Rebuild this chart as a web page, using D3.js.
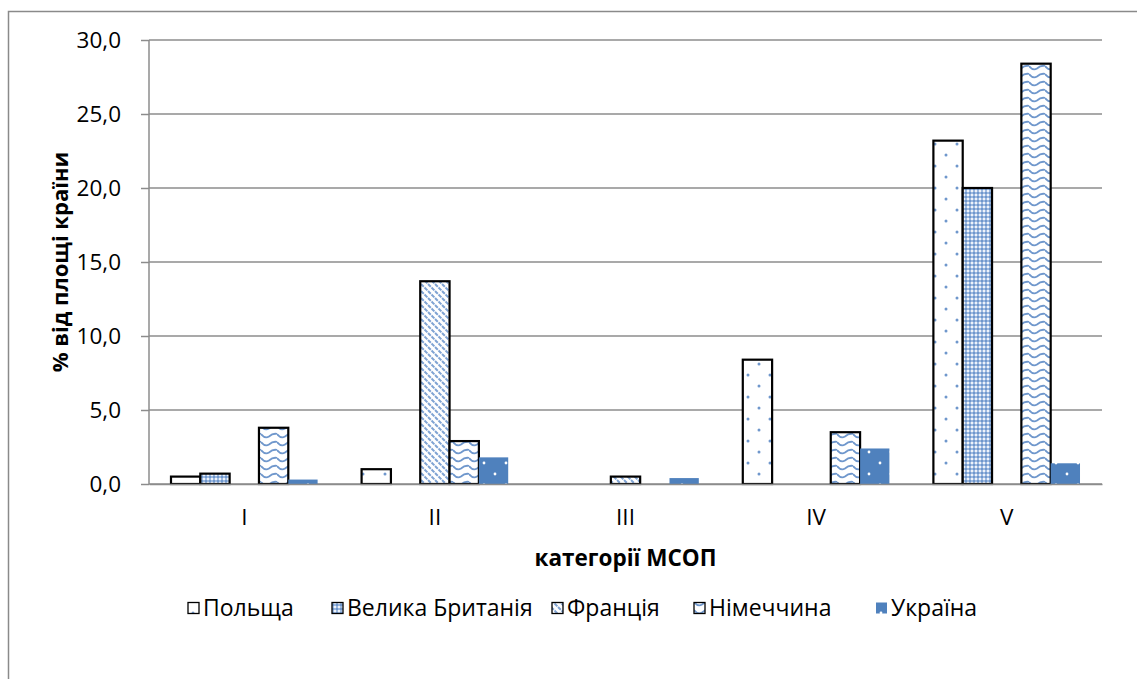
<!DOCTYPE html>
<html lang="uk">
<head>
<meta charset="UTF-8">
<script src="https://d3js.org/d3.v7.min.js"></script>
<style>
body { margin: 0; background: #fff; }
text { font-family: "Open Sans", "Noto Sans", sans-serif; fill: #000; }
</style>
</head>
<body>
<div id="chart"></div>
<script>
// categories and series (% of country area)
var categories = ["I", "II", "III", "IV", "V"];
var seriesNames = ["Польща", "Велика Британія", "Франція", "Німеччина", "Україна"];
var poland  = [0.5, 1.0, 0.0, 8.4, 23.2];
var britain = [0.7, null, null, null, 20.0];
var france  = [null, 13.7, 0.5, null, null];
var germany = [3.8, 2.9, null, 3.5, 28.4];
var ukraine = [0.3, 1.8, 0.4, 2.4, 1.4];
var yTicks = [0, 5, 10, 15, 20, 25, 30];

var series = [poland, britain, france, germany, ukraine];
var patternIds = ["pDots", "pCheck", "pDiag", "pWave", "pSolid"];

var W = 1137, H = 679;
var margin = {top: 40, right: 35, bottom: 195, left: 149},
    width = W - margin.left - margin.right,
    height = H - margin.top - margin.bottom;

var svg = d3.select("#chart").append("svg")
    .attr("width", W)
    .attr("height", H);

// outer chart border
svg.append("rect")
  .attr("x", 8.5).attr("y", 11.5)
  .attr("width", W + 20).attr("height", H + 20)
  .attr("fill", "none").attr("stroke", "#8a8a8a").attr("stroke-width", 1.5);

var defs = svg.append("defs");
var blue = "#4f81bd";

// sparse dots on white
var p = defs.append("pattern").attr("id", "pDots").attr("patternUnits", "userSpaceOnUse")
  .attr("width", 22).attr("height", 22);
p.append("rect").attr("width", 22).attr("height", 22).attr("fill", "#fff");
p.append("circle").attr("cx", 5).attr("cy", 5).attr("r", 1.5).attr("fill", "#6f97cc");
p.append("circle").attr("cx", 16).attr("cy", 16).attr("r", 1.5).attr("fill", "#6f97cc");

// fine checker
p = defs.append("pattern").attr("id", "pCheck").attr("patternUnits", "userSpaceOnUse")
  .attr("width", 4).attr("height", 4);
p.append("rect").attr("width", 4).attr("height", 4).attr("fill", "#9db9e0");
p.append("rect").attr("width", 2).attr("height", 2).attr("fill", "#6f97cc");
p.append("rect").attr("x", 2).attr("y", 2).attr("width", 2).attr("height", 2).attr("fill", "#eef3fa");

// wide downward diagonal
p = defs.append("pattern").attr("id", "pDiag").attr("patternUnits", "userSpaceOnUse")
  .attr("width", 7).attr("height", 7);
p.append("rect").attr("width", 7).attr("height", 7).attr("fill", "#fff");
p.append("path").attr("d", "M-1,-1L8,8M-1,6L1,8M6,-1L8,1")
  .attr("stroke", "#7fa3d3").attr("stroke-width", 2).attr("stroke-dasharray", "4,1");

// waves
p = defs.append("pattern").attr("id", "pWave").attr("patternUnits", "userSpaceOnUse")
  .attr("width", 16).attr("height", 8);
p.append("rect").attr("width", 16).attr("height", 8).attr("fill", "#fff");
p.append("path").attr("d", "M0,2 Q4,7 8,4.5 Q12,1 16,2")
  .attr("fill", "none").attr("stroke", "#6f97cc").attr("stroke-width", 1.8);

// solid blue with white dots
p = defs.append("pattern").attr("id", "pSolid").attr("patternUnits", "userSpaceOnUse")
  .attr("width", 22).attr("height", 22);
p.append("rect").attr("width", 22).attr("height", 22).attr("fill", blue);
p.append("circle").attr("cx", 5).attr("cy", 5).attr("r", 1.4).attr("fill", "#fff");
p.append("circle").attr("cx", 16).attr("cy", 16).attr("r", 1.4).attr("fill", "#fff");

var g = svg.append("g").attr("transform", "translate(" + margin.left + "," + margin.top + ")");

var x0 = d3.scaleBand().domain(categories).range([0, width]).padding(0);
var x1 = d3.scaleBand().domain(d3.range(seriesNames.length)).range([0, x0.bandwidth()])
  .paddingInner(0).paddingOuter(0.75);
var y = d3.scaleLinear().domain([0, 30]).range([height, 0]);

// gridlines
g.append("g").selectAll("line").data(yTicks).enter().append("line")
  .attr("x1", 0).attr("x2", width)
  .attr("y1", function(d) { return y(d); }).attr("y2", function(d) { return y(d); })
  .attr("stroke", "#8c8c8c").attr("stroke-width", 1.5);

// y axis
var yAxis = g.append("g")
  .call(d3.axisLeft(y).tickValues(yTicks).tickSize(8).tickPadding(20)
    .tickFormat(function(d) { return d3.format(".1f")(d).replace(".", ","); }));
yAxis.selectAll("path, line").attr("stroke", "#8c8c8c").attr("stroke-width", 1.5);
yAxis.select(".domain").attr("d", "M0," + y(30) + "V" + y(0));
yAxis.selectAll("text").style("font-size", "22.5px").attr("fill", "#000");

// bars
var rows = [];
categories.forEach(function(c, ci) {
  series.forEach(function(s, si) {
    if (s[ci] !== null) rows.push({cat: c, si: si, v: s[ci]});
  });
});

g.append("g").selectAll("rect").data(rows).enter().append("rect")
  .attr("x", function(d) { return x0(d.cat) + x1(d.si); })
  .attr("y", function(d) { return y(d.v); })
  .attr("width", x1.bandwidth())
  .attr("height", function(d) { return y(0) - y(d.v); })
  .attr("fill", function(d) { return "url(#" + patternIds[d.si] + ")"; })
  .attr("stroke", function(d) { return d.si < 4 && d.v > 0 ? "#000" : "none"; })
  .attr("stroke-width", 2.2);

// category axis
var xAxis = g.append("g").attr("transform", "translate(0," + height + ")")
  .call(d3.axisBottom(x0).tickSize(0).tickPadding(25));
xAxis.select(".domain").attr("stroke", "#8c8c8c").attr("stroke-width", 1.5);
xAxis.selectAll("text").style("font-size", "22.5px").attr("fill", "#000");

// axis titles
g.append("text")
  .attr("x", width / 2).attr("y", height + 82)
  .attr("text-anchor", "middle")
  .style("font-size", "22.5px").style("font-weight", "bold")
  .text("категорії МСОП");

g.append("text")
  .attr("transform", "translate(" + (-81) + "," + (height / 2) + ") rotate(-90)")
  .attr("text-anchor", "middle")
  .style("font-size", "22px").style("font-weight", "bold")
  .text("% від площі країни");

// legend
var legendX = [188, 332, 552, 694, 876];
var legend = svg.append("g").attr("transform", "translate(0,608)");
var items = legend.selectAll("g").data(seriesNames).enter().append("g")
  .attr("transform", function(d, i) { return "translate(" + legendX[i] + ",0)"; });
items.append("rect")
  .attr("x", 0).attr("y", -5.5).attr("width", 11).attr("height", 11)
  .attr("fill", function(d, i) { return "url(#" + patternIds[i] + ")"; })
  .attr("stroke", function(d, i) { return i < 4 ? "#000" : "none"; })
  .attr("stroke-width", 1.3);
items.append("text")
  .attr("x", 15).attr("y", 0).attr("dy", "0.35em")
  .style("font-size", "23px")
  .text(function(d) { return d; });
</script>
</body>
</html>
